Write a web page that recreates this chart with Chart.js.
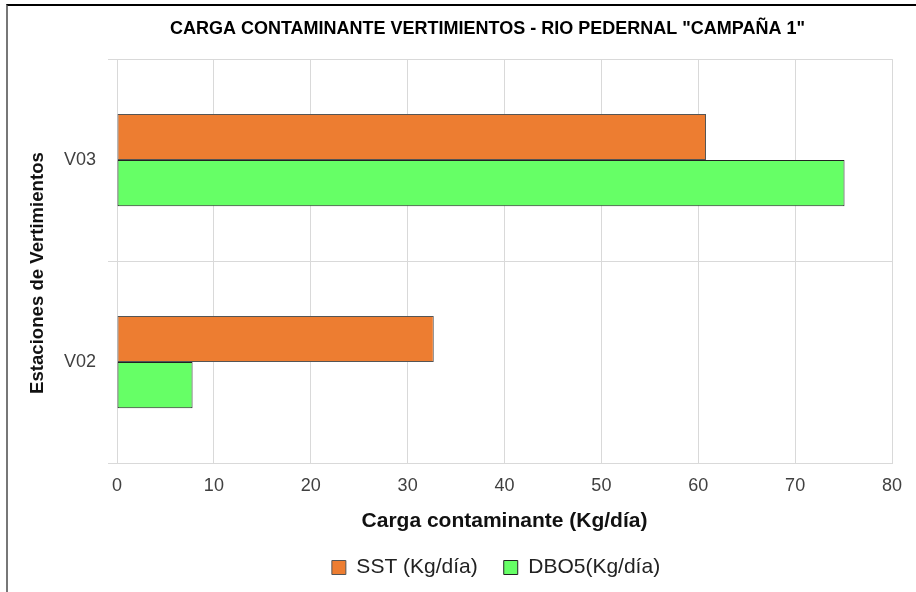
<!DOCTYPE html>
<html>
<head>
<meta charset="utf-8">
<script src="https://cdn.jsdelivr.net/npm/chart.js@4"></script>
<style>
  html, body { margin: 0; padding: 0; background: #fff; }
  #wrap { position: relative; width: 916px; height: 592px; }
  #frame { position: absolute; left: 6px; top: 4px; right: 0; bottom: 0;
           border-left: 2px solid #777; border-top: 2px solid #000; pointer-events: none; }
  canvas { position: absolute; left: 0; top: 0; }
</style>
</head>
<body>
<div id="wrap">
  <canvas id="c" width="916" height="592"></canvas>
  <div id="frame"></div>
</div>
<script>
const categories = ['V03', 'V02'];
const sstValues = [60.8, 32.7];
const dboValues = [75.1, 7.8];
const xTicks = [0, 10, 20, 30, 40, 50, 60, 70, 80];
const seriesNames = ['SST (Kg/día)', 'DBO5(Kg/día)'];

const FONT = "'Liberation Sans', Arial, sans-serif";
const GRID = '#d9d9d9';

// shift title and legend horizontally / legend vertically after layout
const placePlugin = {
  id: 'place',
  afterLayout(chart) {
    const t = chart.titleBlock;
    if (t) { t.left += 41.5; t.right += 41.5; }
    const l = chart.legend;
    if (l) { l.left += 50; l.right += 50; l.top -= 19; }
    const ys = chart.scales.y;
    if (ys && !ys._titleShifted) {
      const orig = ys.drawTitle.bind(ys);
      ys.drawTitle = function () {
        const ctx = this.ctx;
        ctx.save();
        ctx.translate(0, 12);
        orig();
        ctx.restore();
      };
      ys._titleShifted = true;
    }
  }
};

new Chart(document.getElementById('c'), {
  type: 'bar',
  data: {
    labels: categories,
    datasets: [
      { label: seriesNames[0], data: sstValues, backgroundColor: '#ED7D31',
        borderColor: '#555555', borderWidth: 1, borderSkipped: false },
      { label: seriesNames[1], data: dboValues, backgroundColor: '#66FF66',
        borderColor: '#222222', borderWidth: 1, borderSkipped: false }
    ]
  },
  plugins: [placePlugin],
  options: {
    indexAxis: 'y',
    responsive: false,
    animation: false,
    devicePixelRatio: 1,
    layout: { padding: { left: 0, right: 24, top: 0, bottom: 0 } },
    datasets: { bar: { barPercentage: 1, categoryPercentage: 0.457 } },
    plugins: {
      title: {
        display: true,
        text: 'CARGA CONTAMINANTE VERTIMIENTOS - RIO PEDERNAL "CAMPAÑA 1"',
        color: '#000',
        font: { family: FONT, size: 18, weight: 'bold' },
        padding: { top: 18, bottom: 19.5 }
      },
      legend: {
        position: 'bottom',
        maxHeight: 42,
        labels: {
          color: '#222',
          font: { family: FONT, size: 21 },
          boxWidth: 14, boxHeight: 14,
          padding: 26
        }
      },
      tooltip: { enabled: false }
    },
    scales: {
      x: {
        min: 0, max: 80,
        afterBuildTicks: s => { s.ticks = xTicks.map(v => ({ value: v })); },
        grid: { color: GRID, drawTicks: false, lineWidth: 1 },
        border: { color: GRID },
        ticks: { color: '#404040', font: { family: FONT, size: 18 }, padding: 12, maxRotation: 0 },
        title: { display: true, text: 'Carga contaminante (Kg/día)', color: '#111',
                 font: { family: FONT, size: 21, weight: 'bold' }, padding: { top: 0, bottom: 16.4 } },
        afterFit: s => { s.height = 87; }
      },
      y: {
        grid: { color: GRID, offset: true, tickLength: 9 },
        border: { color: GRID },
        ticks: { color: '#404040', font: { family: FONT, size: 18 }, padding: 12 },
        title: { display: true, text: 'Estaciones de Vertimientos', color: '#111',
                 font: { family: FONT, size: 18.6, weight: 'bold' }, padding: { top: 26.8, bottom: 0 } },
        afterFit: s => { s.width = 117; }
      }
    }
  }
});
</script>
</body>
</html>
